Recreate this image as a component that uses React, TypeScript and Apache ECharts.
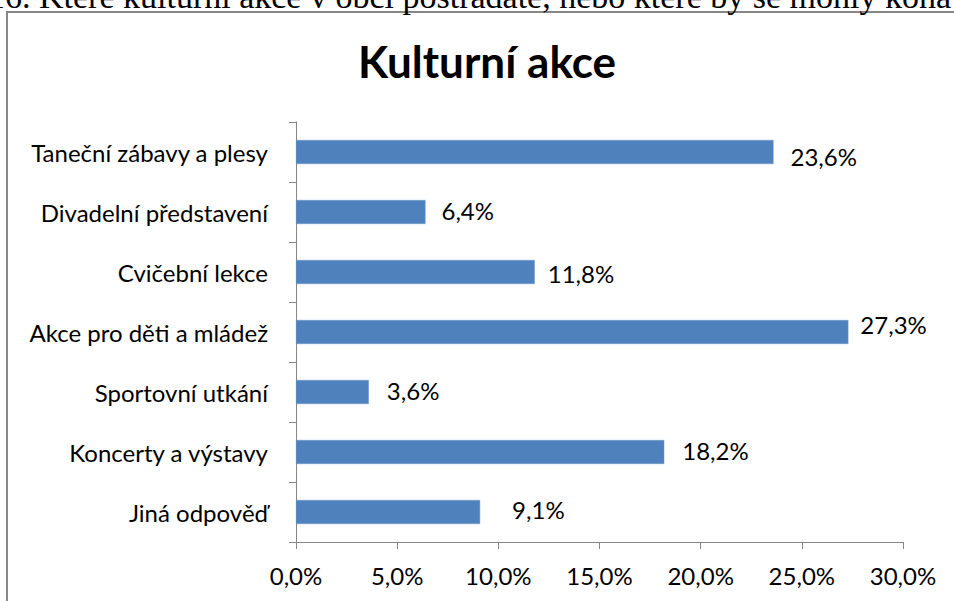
import React, { useEffect, useRef } from "react";
import * as echarts from "echarts";

const categories: string[] = [
  "Taneční zábavy a plesy",
  "Divadelní představení",
  "Cvičební lekce",
  "Akce pro děti a mládež",
  "Sportovní utkání",
  "Koncerty a výstavy",
  "Jiná odpověď",
];
const values: number[] = [23.6, 6.4, 11.8, 27.3, 3.6, 18.2, 9.1];
const xTicks = { min: 0, max: 30, interval: 5 };
const titleText = "Kulturní akce";
const headerText =
  "16. Které kulturní akce v obci postrádáte, nebo které by se mohly kona";

// label nudges (dx, dy) as placed in the original chart
const labelNudges: [number, number][] = [
  [4, 4],
  [3, -2],
  [0, 1],
  [-1, -8],
  [5, -2],
  [5, -2],
  [19, -3],
];

const pct = (v: number) => v.toFixed(1).replace(".", ",") + "%";

export default function App() {
  const ref = useRef<HTMLDivElement>(null);
  useEffect(() => {
    document.body.style.margin = "0";
    const chart = echarts.init(ref.current!, null, { renderer: "svg" });
    const font = "Lato";
    chart.setOption({
      animation: false,
      backgroundColor: "#ffffff",
      grid: { left: 296, right: 51, top: 122, bottom: 59, containLabel: false },
      xAxis: {
        type: "value",
        min: xTicks.min,
        max: xTicks.max,
        interval: xTicks.interval,
        splitLine: { show: false },
        axisLine: { show: true, lineStyle: { color: "#868686", width: 1 } },
        axisTick: { show: true, length: 7, lineStyle: { color: "#868686" } },
        axisLabel: {
          formatter: (v: number) => pct(v),
          color: "#000",
          fontFamily: font,
          fontSize: 24,
          margin: 21,
        },
      },
      yAxis: {
        type: "category",
        inverse: true,
        data: categories,
        axisLine: { show: true, lineStyle: { color: "#868686", width: 1 } },
        axisTick: { show: true, length: 7, lineStyle: { color: "#868686" } },
        axisLabel: {
          color: "#000",
          fontFamily: font,
          fontSize: 24,
          margin: 28,
        },
      },
      series: [
        {
          type: "bar",
          barWidth: 24,
          data: values.map((v, i) => ({
            value: v,
            label: { offset: labelNudges[i] },
          })),
          itemStyle: { color: "#4F81BD", borderColor: "#6f97c8", borderWidth: 0.5 },
          label: {
            show: true,
            position: "right",
            distance: 13,
            formatter: (p: any) => pct(p.value),
            color: "#000",
            fontFamily: font,
            fontSize: 24,
          },
        },
      ],
      graphic: [
        {
          type: "rect",
          shape: { x: 7, y: 12, width: 980, height: 620 },
          style: { fill: "none", stroke: "#878787", lineWidth: 2 },
          silent: true,
        },
        {
          type: "text",
          x: -12,
          y: 13,
          style: {
            text: headerText,
            font: '34px "Liberation Serif"',
            fill: "#000",
            textAlign: "left",
            textVerticalAlign: "bottom",
          },
          silent: true,
        },
        {
          type: "text",
          x: 487,
          y: 61,
          style: {
            text: titleText,
            font: 'bold 44px "Lato"',
            fill: "#000",
            textAlign: "center",
            textVerticalAlign: "middle",
          },
          silent: true,
        },
      ],
    });
    return () => chart.dispose();
  }, []);
  return (
    <div
      ref={ref}
      style={{ position: "fixed", left: 0, top: 0, width: 954, height: 601 }}
    />
  );
}
